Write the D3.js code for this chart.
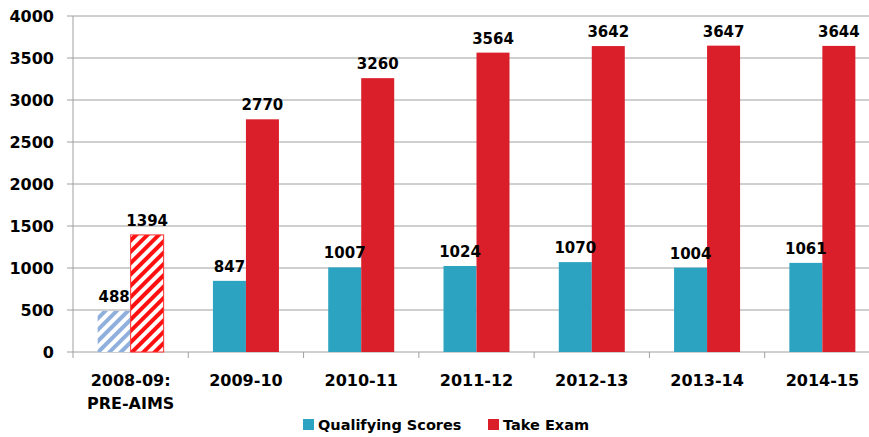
<!DOCTYPE html>
<html>
<head>
<meta charset="utf-8">
<script src="https://cdn.jsdelivr.net/npm/d3@7"></script>
<style>
  body { margin: 0; background: #fff; }
  text { font-family: "DejaVu Sans", sans-serif; font-weight: bold; fill: #000; }
</style>
</head>
<body>
<svg id="chart" width="869" height="437"></svg>
<script>
// data
const years = ["2008-09:|PRE-AIMS", "2009-10", "2010-11", "2011-12", "2012-13", "2013-14", "2014-15"];
const qualifying = [488, 847, 1007, 1024, 1070, 1004, 1061];
const takeExam = [1394, 2770, 3260, 3564, 3642, 3647, 3644];
const yTicks = [0, 500, 1000, 1500, 2000, 2500, 3000, 3500, 4000];

const svg = d3.select("#chart");
const plotLeft = 73, plotRight = 880, plotTop = 16, plotBottom = 352;

const x = d3.scaleBand().domain(years).range([plotLeft, plotRight]).padding(0);
const y = d3.scaleLinear().domain([0, 4000]).range([plotBottom, plotTop]);
const barW = 33;

// patterns for the pre-AIMS year
const defs = svg.append("defs");
function hatch(id, color) {
  const p = defs.append("pattern")
    .attr("id", id)
    .attr("patternUnits", "userSpaceOnUse")
    .attr("width", 8)
    .attr("height", 8)
    .attr("patternTransform", "rotate(45)");
  p.append("rect").attr("width", 8).attr("height", 8).attr("fill", "#fff");
  p.append("rect").attr("width", 4).attr("height", 8).attr("fill", color);
}
hatch("hatchBlue", "#8fb0dd");
hatch("hatchRed", "#ff1010");

// grid
svg.append("g")
  .selectAll("line")
  .data(yTicks)
  .enter()
  .append("line")
  .attr("x1", plotLeft - 6)
  .attr("x2", 869)
  .attr("y1", (d) => y(d))
  .attr("y2", (d) => y(d))
  .attr("stroke", "#a0a0a0")
  .attr("stroke-width", 1);

// y axis line
svg.append("line")
  .attr("x1", plotLeft).attr("x2", plotLeft)
  .attr("y1", plotTop).attr("y2", plotBottom + 6)
  .attr("stroke", "#a0a0a0");

// y tick labels
svg.append("g")
  .selectAll("text")
  .data(yTicks)
  .enter()
  .append("text")
  .attr("x", 54)
  .attr("y", (d) => y(d) + 6)
  .attr("text-anchor", "end")
  .style("font-size", "16px")
  .text((d) => d);

// x tick marks at category boundaries
const bounds = years.map((d) => x(d)).concat([plotRight]);
svg.append("g")
  .selectAll("line")
  .data(bounds.slice(1))
  .enter()
  .append("line")
  .attr("x1", (d) => d).attr("x2", (d) => d)
  .attr("y1", plotBottom).attr("y2", plotBottom + 6)
  .attr("stroke", "#a0a0a0");

const groups = svg.append("g")
  .selectAll("g")
  .data(years)
  .enter()
  .append("g")
  .attr("transform", (d) => `translate(${x(d) + x.bandwidth() / 2},0)`);

// qualifying bars
groups.append("rect")
  .attr("x", -barW)
  .attr("width", barW)
  .attr("y", (d, i) => y(qualifying[i]))
  .attr("height", (d, i) => plotBottom - y(qualifying[i]))
  .attr("fill", (d, i) => (i === 0 ? "url(#hatchBlue)" : "#2ca3c0"));

// take exam bars
groups.append("rect")
  .attr("x", 0)
  .attr("width", barW)
  .attr("y", (d, i) => y(takeExam[i]))
  .attr("height", (d, i) => plotBottom - y(takeExam[i]))
  .attr("fill", (d, i) => (i === 0 ? "url(#hatchRed)" : "#da1f2b"))
  .attr("stroke", (d, i) => (i === 0 ? "#ff3030" : "none"))
  .attr("stroke-width", 1);

// value labels
groups.append("text")
  .attr("x", -barW / 2)
  .attr("y", (d, i) => y(qualifying[i]) - 9)
  .attr("text-anchor", "middle")
  .style("font-size", "15px")
  .text((d, i) => qualifying[i]);

groups.append("text")
  .attr("x", barW / 2)
  .attr("y", (d, i) => y(takeExam[i]) - 9)
  .attr("text-anchor", "middle")
  .style("font-size", "15px")
  .text((d, i) => takeExam[i]);

// category labels
groups.each(function (d) {
  const lines = d.split("|");
  const t = d3.select(this).append("text")
    .attr("text-anchor", "middle")
    .style("font-size", "16px");
  lines.forEach((s, k) => {
    t.append("tspan").attr("x", 0).attr("y", 386 + k * 23).text(s);
  });
});

// legend
const legend = svg.append("g").attr("transform", "translate(303,419)");
const legendItems = [
  { label: "Qualifying Scores", color: "#2ca3c0", x: 0 },
  { label: "Take Exam", color: "#da1f2b", x: 185 },
];
legendItems.forEach((item) => {
  legend.append("rect")
    .attr("x", item.x)
    .attr("y", 0)
    .attr("width", 11)
    .attr("height", 11)
    .attr("fill", item.color);
  legend.append("text")
    .attr("x", item.x + 15)
    .attr("y", 11)
    .style("font-size", "14.5px")
    .text(item.label);
});
</script>
</body>
</html>
